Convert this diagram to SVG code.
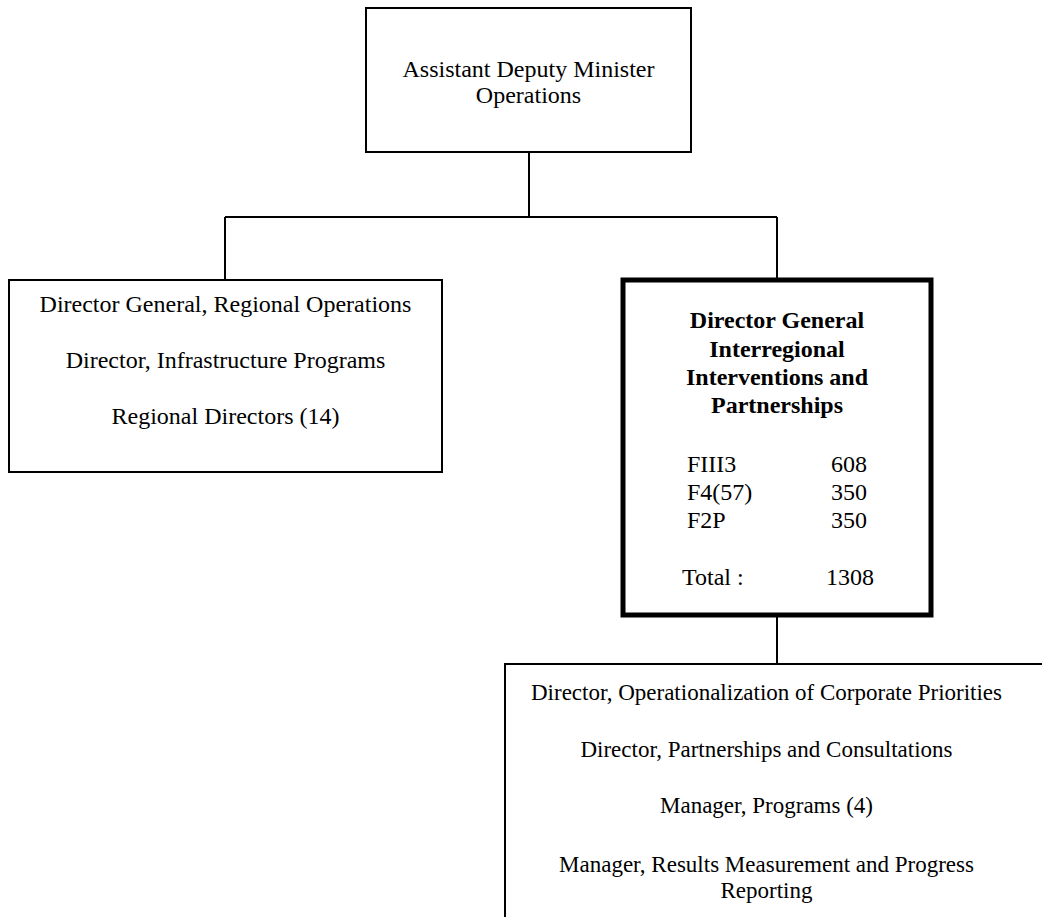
<svg xmlns="http://www.w3.org/2000/svg" width="1042" height="917" viewBox="0 0 1042 917">
  <style>
    .box { fill: #ffffff; stroke: #000000; stroke-width: 2; }
    .box-strong { fill: #ffffff; stroke: #000000; stroke-width: 5; }
    .link { fill: none; stroke: #000000; stroke-width: 2; }
    text { font-family: "Liberation Serif", "Times New Roman", serif; font-size: 24px; fill: #000000; }
    .c { text-anchor: middle; }
    .b { font-weight: bold; }
    .s { font-size: 23px; }
  </style>
  <rect width="1042" height="917" fill="#ffffff"/>

  <!-- reporting lines -->
  <g id="connectors">
    <path class="link" d="M529 152 V217 M225 217 H777 M225 217 V280 M777 217 V280"/>
    <path class="link" d="M777 615 V664"/>
  </g>

  <g id="adm">
    <rect class="box" x="366" y="8" width="325" height="144"/>
    <text class="c" x="528.5" y="77">Assistant Deputy Minister</text>
    <text class="c" x="528.5" y="103">Operations</text>
  </g>

  <g id="regional-ops">
    <rect class="box" x="9" y="280" width="433" height="192"/>
    <text class="c" x="225.5" y="312">Director General, Regional Operations</text>
    <text class="c" x="225.5" y="368">Director, Infrastructure Programs</text>
    <text class="c" x="225.5" y="424">Regional Directors (14)</text>
  </g>

  <g id="interregional">
    <rect class="box-strong" x="623" y="280" width="308" height="335"/>
    <text class="c b" x="777" y="328">Director General</text>
    <text class="c b" x="777" y="357">Interregional</text>
    <text class="c b" x="777" y="385">Interventions and</text>
    <text class="c b" x="777" y="413">Partnerships</text>
    <text x="687" y="472">FIII3</text>
    <text x="831" y="472">608</text>
    <text x="687" y="500">F4(57)</text>
    <text x="831" y="500">350</text>
    <text x="687" y="528">F2P</text>
    <text x="831" y="528">350</text>
    <text x="682" y="585">Total :</text>
    <text x="826" y="585">1308</text>
  </g>

  <g id="interregional-units">
    <rect class="box" x="505" y="664" width="600" height="300"/>
    <text class="c s" x="766.5" y="700">Director, Operationalization of Corporate Priorities</text>
    <text class="c s" x="766.5" y="757">Director, Partnerships and Consultations</text>
    <text class="c s" x="766.5" y="813">Manager, Programs (4)</text>
    <text class="c s" x="766.5" y="872">Manager, Results Measurement and Progress</text>
    <text class="c s" x="766.5" y="898">Reporting</text>
  </g>
</svg>
